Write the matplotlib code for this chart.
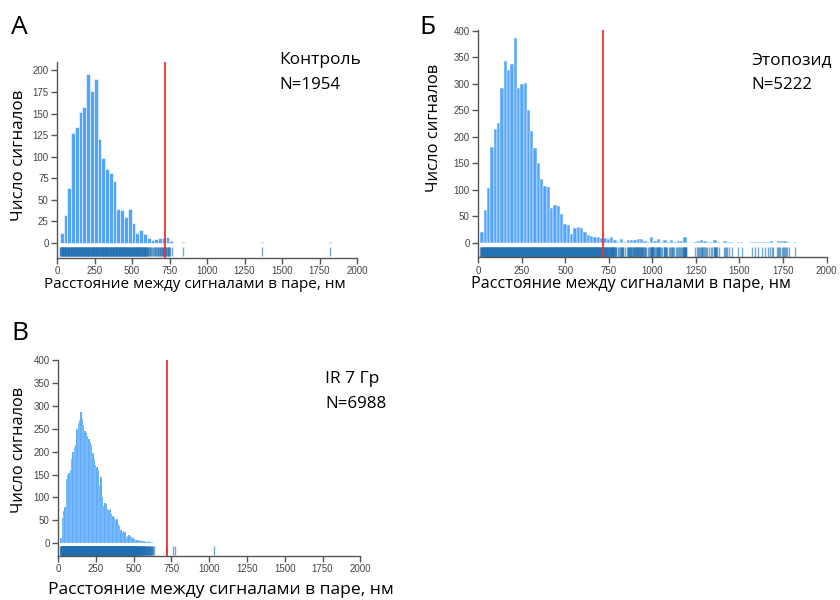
"""
Гистограммы расстояний между сигналами в паре (Контроль / Этопозид / IR 7 Гр)
"""

import matplotlib
matplotlib.use('Agg')
import matplotlib.pyplot as plt
import numpy as np

# ---------------- данные ----------------
# Контроль, N=1954: начало первого бина и ширина бина, нм
control_start = 18
control_width = 25.2
control_counts = [12, 32, 64, 127, 134, 152, 158, 196, 176, 190,
                  120, 98, 86, 81, 72, 40, 38, 30, 39, 23,
                  12, 15, 10, 6, 4, 5, 6, 6, 7, 2,
                  0, 0, 1, 0, 0, 0, 0, 0, 0, 0,
                  0, 0, 0, 0, 0, 0, 0, 0, 0, 0,
                  0, 0, 0, 1, 0, 0, 0, 0, 0, 0,
                  0, 0, 0, 0, 0, 0, 0, 0, 0, 0,
                  0, 1]

# Этопозид, N=5222
etoposide_start = 13
etoposide_width = 19.1
etoposide_counts = [20, 62, 103, 181, 215, 225, 292, 342, 325, 336,
                    386, 292, 300, 302, 250, 210, 178, 150, 120, 107,
                    106, 66, 72, 70, 55, 36, 34, 17, 28, 30,
                    27, 20, 15, 12, 11, 10, 9, 9, 7, 11,
                    6, 2, 7, 1, 6, 6, 6, 7, 7, 4,
                    2, 11, 3, 8, 2, 6, 2, 5, 2, 4,
                    3, 11, 0, 0, 1, 3, 5, 3, 2, 2,
                    6, 2, 0, 3, 2, 1, 0, 1, 1, 0,
                    0, 1, 1, 1, 1, 1, 1, 3, 0, 3,
                    3, 3, 2, 0, 1]

# IR 7 Гр, N=6988
ir_start = 15.7
ir_width = 8.8
ir_counts = [10, 55, 70, 78, 140, 148, 154, 160, 185, 200,
             210, 214, 250, 262, 270, 287, 272, 258, 245, 240,
             234, 228, 222, 214, 198, 185, 170, 166, 160, 128,
             145, 100, 80, 88, 86, 74, 72, 75, 63, 58,
             54, 50, 52, 42, 38, 28, 25, 26, 24, 14,
             16, 17, 15, 12, 10, 8, 7, 6, 6, 5,
             6, 4, 4, 5, 3, 3, 4, 3, 2, 2,
             1, 0, 0, 0, 0, 0, 0, 0, 0, 1,
             0, 0, 0, 0, 1, 0, 1, 0, 0, 0,
             0, 0, 0, 0, 0, 0, 0, 0, 0, 0,
             0, 0, 0, 0, 0, 0, 0, 0, 0, 0,
             0, 0, 0, 0, 0, 1]

threshold_nm = 720
x_ticks = [0, 250, 500, 750, 1000, 1250, 1500, 1750, 2000]

BAR_COLOR = '#52a5fb'
RUG_COLOR = '#1f6fb2'
TEXT_FONT = ['Open Sans', 'DejaVu Sans']
TICK_FONT = ['Liberation Sans', 'DejaVu Sans']

W, H = 840, 600


def draw_panel(ax, start, width, counts, ylim, ystep, rug, edge_lw):
    counts = np.array(counts)
    edges = start + width * np.arange(len(counts))
    ax.bar(edges, counts, width=width, align='edge', color=BAR_COLOR,
           edgecolor='white', linewidth=edge_lw, zorder=2)

    # rug: штрихи внутри каждого непустого бина
    rug_x = []
    for left, c in zip(edges, counts):
        k = min(int(c), 10)
        for j in range(k):
            rug_x.append(left + width * (j + 0.5) / k)
    ax.vlines(rug_x, rug[0], rug[1], color=RUG_COLOR, alpha=0.6,
              linewidth=1.0, zorder=2)

    ax.axvline(threshold_nm, color='#f03030', linewidth=1.3, zorder=3)

    ax.set_xlim(0, 2000)
    ax.set_ylim(*ylim)
    ax.set_xticks(x_ticks)
    ax.set_yticks(np.arange(0, ylim[1] + 1, ystep))
    for s in ['top', 'right']:
        ax.spines[s].set_visible(False)
    for s in ['left', 'bottom']:
        ax.spines[s].set_color('#555555')
        ax.spines[s].set_linewidth(1.0)
    ax.tick_params(axis='both', colors='#555555', labelsize=7,
                   length=4, width=1, direction='out', pad=2)
    for lab in ax.get_xticklabels() + ax.get_yticklabels():
        lab.set_family(TICK_FONT)
        lab.set_color('#444444')


fig = plt.figure(figsize=(8.4, 6), dpi=100)

ax_a = fig.add_axes([0.068, 0.570, 0.357, 0.327])
ax_b = fig.add_axes([0.569, 0.571, 0.415, 0.379])
ax_c = fig.add_axes([0.069, 0.074, 0.360, 0.326])

draw_panel(ax_a, control_start, control_width, control_counts,
           (-17.3, 210), 25, (-4, -15.5), 0.4)
draw_panel(ax_b, etoposide_start, etoposide_width, etoposide_counts,
           (-27.5, 401), 50, (-7, -26), 0.35)
draw_panel(ax_c, ir_start, ir_width, ir_counts,
           (-27.7, 401), 50, (-6.5, -26), 0.12)

# подписи осей (позиции в пикселях рисунка)
xlab = 'Расстояние между сигналами в паре, нм'
ylab = 'Число сигналов'
for x, y, fs in [(195, 284, 11), (631, 284, 11.6), (221, 590, 12.6)]:
    fig.text(x / W, 1 - y / H, xlab, family=TEXT_FONT, fontsize=fs,
             ha='center', va='center')
for x, y, fs in [(19, 155, 12.2), (434, 128, 12), (19, 450, 11.8)]:
    fig.text(x / W, 1 - y / H, ylab, family=TEXT_FONT, fontsize=fs,
             rotation=90, ha='center', va='center')

# подписи групп
labels = [(0.333, 0.893, 'Контроль', 'N=1954'),
          (0.895, 0.893, 'Этопозид', 'N=5222'),
          (0.387, 0.362, 'IR 7 Гр', 'N=6988')]
for x, y, name, n_text in labels:
    fig.text(x, y, name, family=TEXT_FONT, fontsize=12.5, va='baseline')
    fig.text(x, y - 0.042, n_text, family=TEXT_FONT, fontsize=12.2,
             va='baseline')

fig.text(0.013, 0.943, 'А', family=TEXT_FONT, fontsize=19, va='baseline')
fig.text(0.499, 0.943, 'Б', family=TEXT_FONT, fontsize=19, va='baseline')
fig.text(0.013, 0.433, 'В', family=TEXT_FONT, fontsize=19, va='baseline')

fig.savefig('out.png', dpi=100)
